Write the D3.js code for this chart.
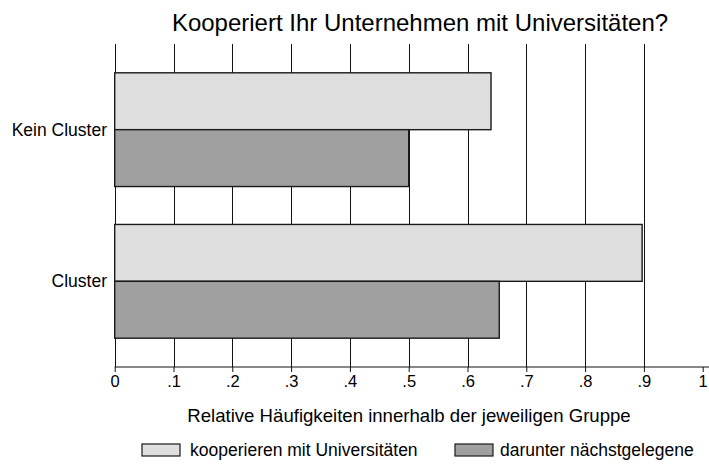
<!DOCTYPE html>
<html>
<head>
<meta charset="utf-8">
<script src="https://cdn.jsdelivr.net/npm/d3@7"></script>
<style>
  body { margin: 0; background: #fff; }
  text { font-family: "Liberation Sans", Arial, sans-serif; fill: #000; }
</style>
</head>
<body>
<div id="chart"></div>
<script>
var groups = ['Kein Cluster', 'Cluster'];
var series = ['kooperieren mit Universitäten', 'darunter nächstgelegene'];
var kooperieren = [0.64, 0.897];
var naechst = [0.50, 0.654];
var ticks = [0, 0.1, 0.2, 0.3, 0.4, 0.5, 0.6, 0.7, 0.8, 0.9, 1];
var tick_labels = ['0', '.1', '.2', '.3', '.4', '.5', '.6', '.7', '.8', '.9', '1'];
var colors = ['#dfdfdf', '#a0a0a0'];

var chart_width = 709;
var chart_height = 464;
var plot_left = 114.7, plot_right = 702.7, plot_top = 44, plot_bottom = 367;

var svg = d3.select('#chart')
    .append('svg')
    .attr('width', chart_width)
    .attr('height', chart_height);

var x_scale = d3.scaleLinear()
    .domain([0, 1])
    .range([plot_left, plot_right]);

var y_scale = d3.scaleBand()
    .domain(groups)
    .range([plot_top, plot_bottom])
    .paddingInner(0.25)
    .paddingOuter(0.19);

var sub_scale = d3.scaleBand()
    .domain([0, 1])
    .range([0, y_scale.bandwidth()]);

// Gitterlinien
svg.selectAll('line.grid')
    .data(ticks.slice(0, 10))
    .enter()
    .append('line')
    .attr('class', 'grid')
    .attr('x1', function (d) { return Math.round(x_scale(d)) + 0.5; })
    .attr('x2', function (d) { return Math.round(x_scale(d)) + 0.5; })
    .attr('y1', plot_top)
    .attr('y2', plot_bottom)
    .attr('stroke', '#111')
    .attr('stroke-width', 1);

// Balken
var rows = [];
groups.forEach(function (g, i) {
    rows.push({ group: g, s: 0, value: kooperieren[i] });
    rows.push({ group: g, s: 1, value: naechst[i] });
});

svg.selectAll('rect.bar')
    .data(rows)
    .enter()
    .append('rect')
    .attr('class', 'bar')
    .attr('x', x_scale(0))
    .attr('y', function (d) { return y_scale(d.group) + sub_scale(d.s); })
    .attr('width', function (d) { return x_scale(d.value) - x_scale(0); })
    .attr('height', sub_scale.bandwidth())
    .attr('fill', function (d) { return colors[d.s]; })
    .attr('stroke', '#1a1a1a')
    .attr('stroke-width', 1.4);

// x-Achse
var x_axis = d3.axisBottom(x_scale)
    .tickValues(ticks)
    .tickFormat(function (d, i) { return tick_labels[i]; })
    .tickSize(5)
    .tickPadding(3);

var gx = svg.append('g')
    .attr('transform', 'translate(0,' + plot_bottom + ')')
    .call(x_axis);
gx.select('.domain').remove();
gx.append('line')
    .attr('x1', plot_left)
    .attr('x2', chart_width)
    .attr('stroke', '#111');
gx.selectAll('.tick line').attr('stroke', '#111');
gx.selectAll('text')
    .attr('font-size', 16.5)
    .attr('fill', '#000')
    .style('font-family', '"Liberation Sans", Arial, sans-serif');

// y-Beschriftungen
svg.selectAll('text.ylab')
    .data(groups)
    .enter()
    .append('text')
    .attr('class', 'ylab')
    .attr('x', 107)
    .attr('y', function (d) { return y_scale(d) + y_scale.bandwidth() / 2; })
    .attr('dy', '0.35em')
    .attr('text-anchor', 'end')
    .attr('font-size', 17.5)
    .text(function (d) { return d; });

// Titel
svg.append('text')
    .attr('x', 420)
    .attr('y', 31)
    .attr('text-anchor', 'middle')
    .attr('font-size', 24)
    .text('Kooperiert Ihr Unternehmen mit Universitäten?');

svg.append('text')
    .attr('x', 409)
    .attr('y', 421.5)
    .attr('text-anchor', 'middle')
    .attr('font-size', 18.6)
    .text('Relative Häufigkeiten innerhalb der jeweiligen Gruppe');

// Legende
var legend_x = [142, 455];
var lg = svg.selectAll('g.legend')
    .data(series)
    .enter()
    .append('g')
    .attr('class', 'legend')
    .attr('transform', function (d, i) { return 'translate(' + legend_x[i] + ',444)'; });

lg.append('rect')
    .attr('width', 38)
    .attr('height', 12)
    .attr('fill', function (d, i) { return colors[i]; })
    .attr('stroke', '#1a1a1a')
    .attr('stroke-width', 1.2);

lg.append('text')
    .attr('x', function (d, i) { return i === 0 ? 48 : 45; })
    .attr('y', 6)
    .attr('dy', '0.35em')
    .attr('font-size', 17.5)
    .text(function (d) { return d; });
</script>
</body>
</html>
